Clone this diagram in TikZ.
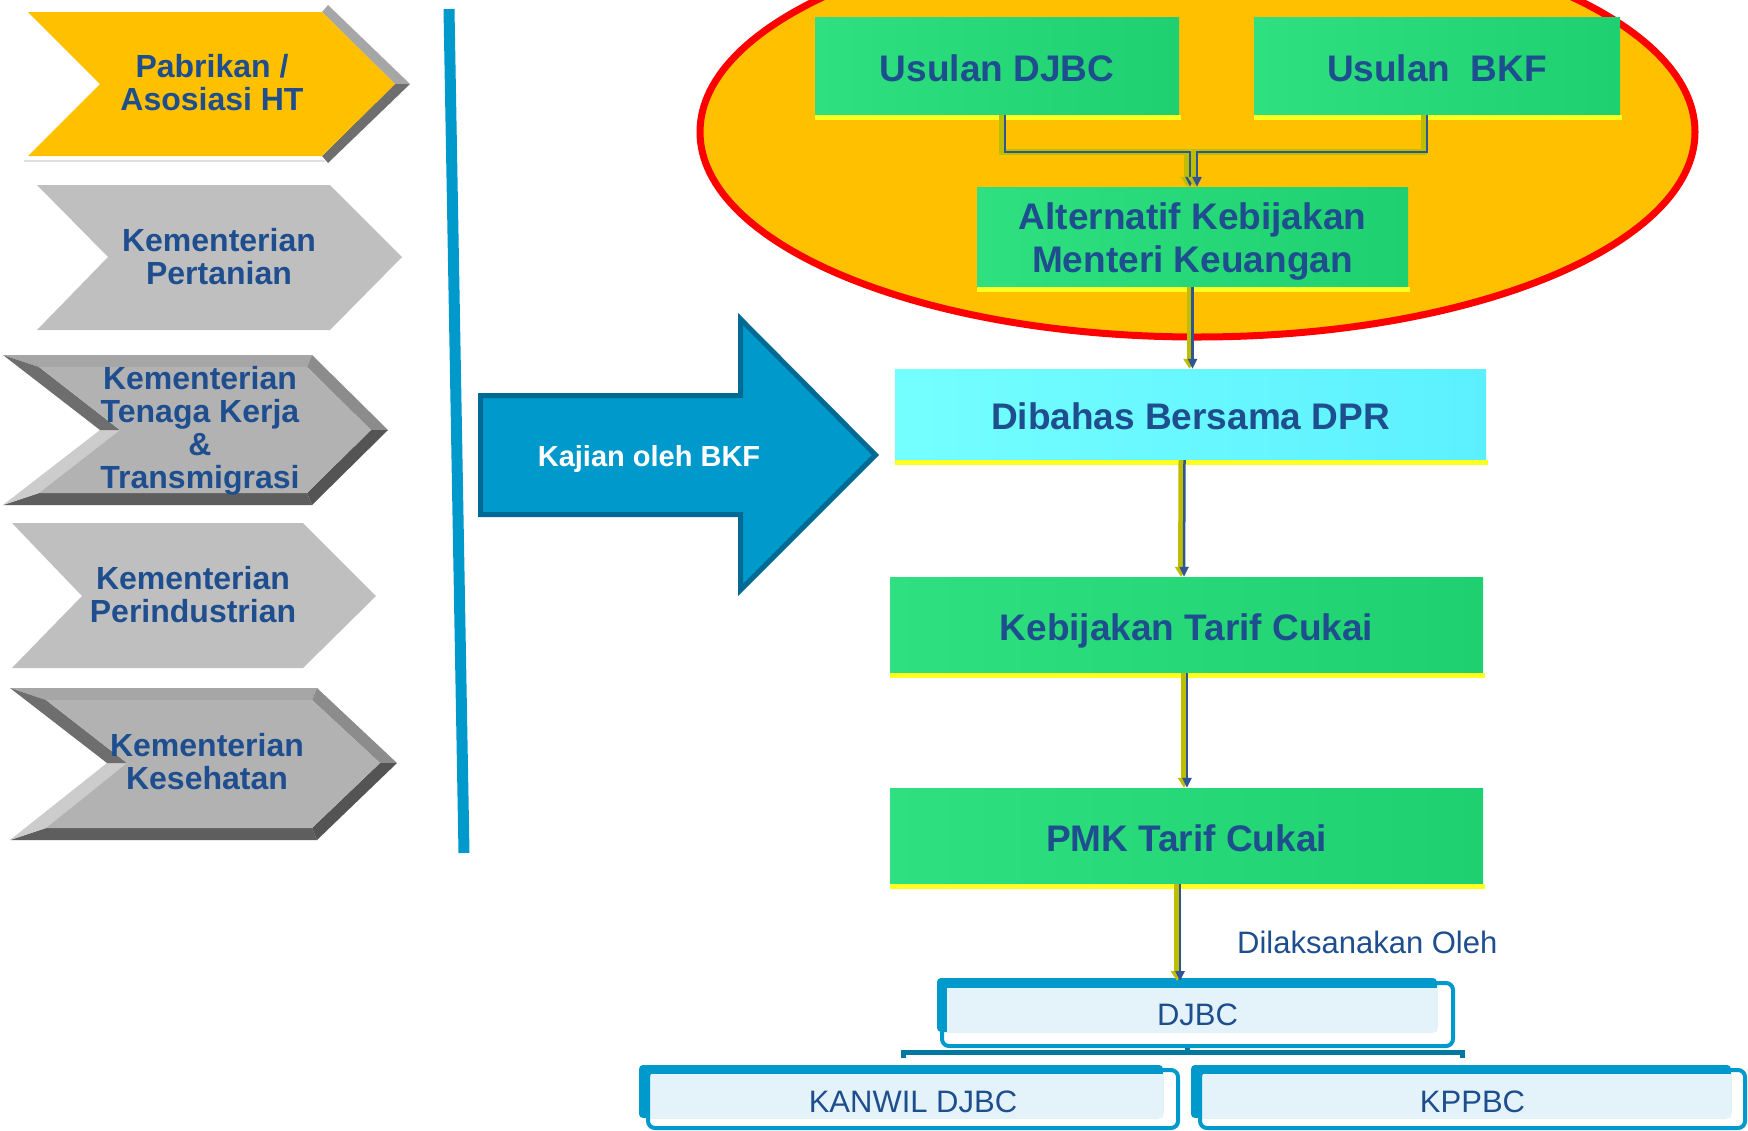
\documentclass[tikz,border=0pt]{standalone}
\usepackage{fontspec}
\setmainfont{Liberation Sans}
\usetikzlibrary{arrows.meta,calc}
\definecolor{txtblue}{RGB}{31,78,143}
\definecolor{chevyel}{RGB}{255,192,0}
\definecolor{chevgray}{RGB}{191,191,191}
\definecolor{bevface}{RGB}{178,178,178}
\definecolor{bkfblue}{RGB}{0,153,204}
\definecolor{bkfdark}{RGB}{0,106,148}
\definecolor{ellfill}{RGB}{255,192,0}
\definecolor{gboxA}{RGB}{46,224,128}
\definecolor{gboxB}{RGB}{30,208,112}
\definecolor{cyanA}{RGB}{116,255,255}
\definecolor{cyanB}{RGB}{92,240,255}
\definecolor{stripyel}{RGB}{255,255,32}
\definecolor{linkblue}{RGB}{47,85,151}
\definecolor{linkolive}{RGB}{190,190,0}
\definecolor{orgblue}{RGB}{0,153,204}
\definecolor{orglight}{RGB}{228,243,250}
\definecolor{orgdark}{RGB}{0,120,160}
% bevelled chevron: x0 y0 x1 x2 ym y1 xn
\newcommand\bevchev[7]{%
  \fill[black!35] (#1,#2) -- (#3,#2) -- ({#3-5},{#2+12}) -- ({#1+36},{#2+12}) -- cycle;
  \fill[black!45] (#3,#2) -- (#4,#5) -- ({#4-17},#5) -- ({#3-5},{#2+12}) -- cycle;
  \fill[black!67] (#4,#5) -- (#3,#6) -- ({#3-5},{#6-12}) -- ({#4-17},#5) -- cycle;
  \fill[black!63] (#3,#6) -- (#1,#6) -- ({#1+36},{#6-12}) -- ({#3-5},{#6-12}) -- cycle;
  \fill[black!20] (#1,#6) -- (#7,#5) -- ({#7+20},#5) -- ({#1+36},{#6-12}) -- cycle;
  \fill[black!57] (#7,#5) -- (#1,#2) -- ({#1+36},{#2+12}) -- ({#7+20},#5) -- cycle;
  \fill[bevface] ({#1+36},{#2+12}) -- ({#3-5},{#2+12}) -- ({#4-17},#5) -- ({#3-5},{#6-12}) -- ({#1+36},{#6-12}) -- ({#7+20},#5) -- cycle;
}
\begin{document}
\begin{tikzpicture}[x=1pt,y=-1pt,line join=miter,
  chevtext/.style={text=txtblue,font=\bfseries\fontsize{32}{33}\selectfont,align=center,inner sep=0pt},
  gbox/.style={left color=gboxA,right color=gboxB,text=txtblue,font=\bfseries\fontsize{37}{43}\selectfont,align=center,inner sep=0pt,text height=30.9pt,text depth=0pt},
  cbox/.style={gbox,left color=cyanA,right color=cyanB},
  boxtext/.style={text=txtblue,font=\bfseries\fontsize{37}{42.5}\selectfont,align=center,inner sep=0pt},
  orgbox/.style={draw=orgblue,line width=4pt,rounded corners=7pt,text=txtblue,font=\fontsize{31}{35}\selectfont,inner sep=0pt,text height=22.2pt,text depth=0pt},
  strip/.style={fill=stripyel},
  conn/.style={draw=linkblue,line width=2.5pt,-{Triangle[length=10pt,width=9pt]},
    preaction={draw=linkolive,line width=6pt,transform canvas={xshift=-3pt},-{Triangle[length=10pt,width=12pt]}}},
  bracket/.style={draw=orgdark,line width=5pt}
]
\useasboundingbox (0,0) rectangle (1748,1130);
\fill[white] (0,0) rectangle (1748,1130);
\clip (0,0) rectangle (1748,1130);

% ---------- left chevrons ----------
\fill[black!35] (322,12) -- (328,5) -- (410,84) -- (395,84) -- cycle;
\fill[black!57] (395,84) -- (410,84) -- (328,163) -- (322,156) -- cycle;
\draw[black!12,line width=1.5pt] (24,161) -- (325,161);
\fill[chevyel] (28,12) -- (322,12) -- (395,84) -- (322,156) -- (28,156) -- (100,84) -- cycle;
\node[chevtext] (pab) at (212,83) {Pabrikan /\\Asosiasi HT};

\fill[chevgray] (37,185) -- (330,185) -- (402,257) -- (330,330) -- (37,330) -- (108,257) -- cycle;
\node[chevtext] (ktan) at (219,257) {Kementerian\\Pertanian};

\bevchev{3}{355}{312}{388}{430}{505}{100}
\node[chevtext] (kten) at (200,431) {Kementerian\\Tenaga Kerja\\\&\\Transmigrasi};

\fill[chevgray] (12,523) -- (303,523) -- (376,596) -- (303,668) -- (12,668) -- (82,596) -- cycle;
\node[chevtext] (kind) at (193,595) {Kementerian\\Perindustrian};

\bevchev{10}{688}{317}{397}{763}{840}{107}
\node[chevtext] (kkes) at (207,762) {Kementerian\\Kesehatan};

% ---------- vertical separator ----------
\draw[bkfblue,line width=11pt] (449,9) -- (464,853);

% ---------- big arrow ----------
\draw[fill=bkfblue,draw=bkfdark,line width=5pt] (480.5,395.5) -- (740.5,395.5) -- (740.5,319) -- (875.5,455) -- (740.5,590) -- (740.5,514.5) -- (480.5,514.5) -- cycle;
\node[text=white,font=\bfseries\fontsize{29}{33}\selectfont,inner sep=0pt,text height=21.8pt,text depth=0pt] (kaj) at (649,456) {Kajian oleh BKF};

% ---------- ellipse ----------
\draw[red,line width=7pt,fill=ellfill] (1197.5,132) ellipse [x radius=497.5pt,y radius=205pt];

\node[gbox,minimum width=364pt,minimum height=98pt] (ud) at (997,66) {Usulan DJBC};
\fill[strip] ($(ud.south west)+(0,0)$) rectangle ($(ud.south east)+(2,5)$);
\node[gbox,minimum width=366pt,minimum height=98pt] (ub) at (1437,66) {Usulan\ \ BKF};
\fill[strip] ($(ub.south west)+(0,0)$) rectangle ($(ub.south east)+(2,5)$);
\node[gbox,minimum width=431pt,minimum height=100pt] (alt) at (1192.5,237) {};
\node[boxtext] (alttext) at (1192.5,241.5) {Alternatif Kebijakan\\Menteri Keuangan};
\fill[strip] ($(alt.south west)+(0,0)$) rectangle ($(alt.south east)+(2,5)$);

\draw[conn] ([xshift=8pt]ud.south) -- ++(0,37) -| ([xshift=-2.5pt]alt.north);
\draw[conn] ([xshift=-10pt]ub.south) -- ++(0,37) -| ([xshift=4.5pt]alt.north);

% ---------- main column ----------
\node[cbox,minimum width=591pt,minimum height=91pt] (dpr) at (1190.5,414.5) {Dibahas Bersama DPR};
\fill[strip] ($(dpr.south west)+(0,0)$) rectangle ($(dpr.south east)+(2,5)$);
\node[gbox,minimum width=593pt,minimum height=96pt] (keb) at (1186.5,625) {Kebijakan Tarif Cukai};
\fill[strip] ($(keb.south west)+(0,0)$) rectangle ($(keb.south east)+(2,5)$);
\node[gbox,minimum width=593pt,minimum height=96pt] (pmk) at (1186.5,836) {PMK Tarif Cukai};
\fill[strip] ($(pmk.south west)+(0,0)$) rectangle ($(pmk.south east)+(2,5)$);

\draw[conn] (alt.south) -- (alt.south |- dpr.north);
\draw[conn] ([xshift=-6pt]dpr.south) -- ([xshift=-2.5pt]keb.north);
\draw[conn] ([xshift=0.5pt]keb.south) -- ([xshift=0.5pt]pmk.north);

\node[anchor=west,text=txtblue,font=\fontsize{31}{35}\selectfont,inner sep=0pt] (dil) at (1237,942) {Dilaksanakan Oleh};

% ---------- organisation boxes ----------
\fill[orgblue,rounded corners=4pt] (937,978) rectangle (1437,1032);
\fill[orglight] (947,988) rectangle (1437,1032);
\node[orgbox,minimum width=511pt,minimum height=63pt] (djbc) at (1197.5,1014.5) {DJBC};

\fill[orgblue,rounded corners=4pt] (639,1065) rectangle (1163,1118);
\fill[orglight] (649,1074) rectangle (1163,1118);
\node[orgbox,minimum width=530pt,minimum height=58pt,text height=26.6pt] (kanwil) at (913,1099) {KANWIL DJBC};

\fill[orgblue,rounded corners=4pt] (1191,1065) rectangle (1731,1118);
\fill[orglight] (1201,1074) rectangle (1731,1118);
\node[orgbox,minimum width=545pt,minimum height=58pt,text height=26.6pt] (kppbc) at (1472.5,1099) {KPPBC};

\draw[conn] ([xshift=-6.5pt]pmk.south) -- ([xshift=-17.5pt]djbc.north);

\draw[bracket] (djbc.south) ++(-10,0) -- ++(0,6);
\draw[bracket] ($(kanwil.north)+(-10,-10)$) -- ($(kanwil.north)+(-10,-16)$) -- ($(kppbc.north)+(-10,-16)$) -- ($(kppbc.north)+(-10,-10)$);
\end{tikzpicture}
\end{document}
